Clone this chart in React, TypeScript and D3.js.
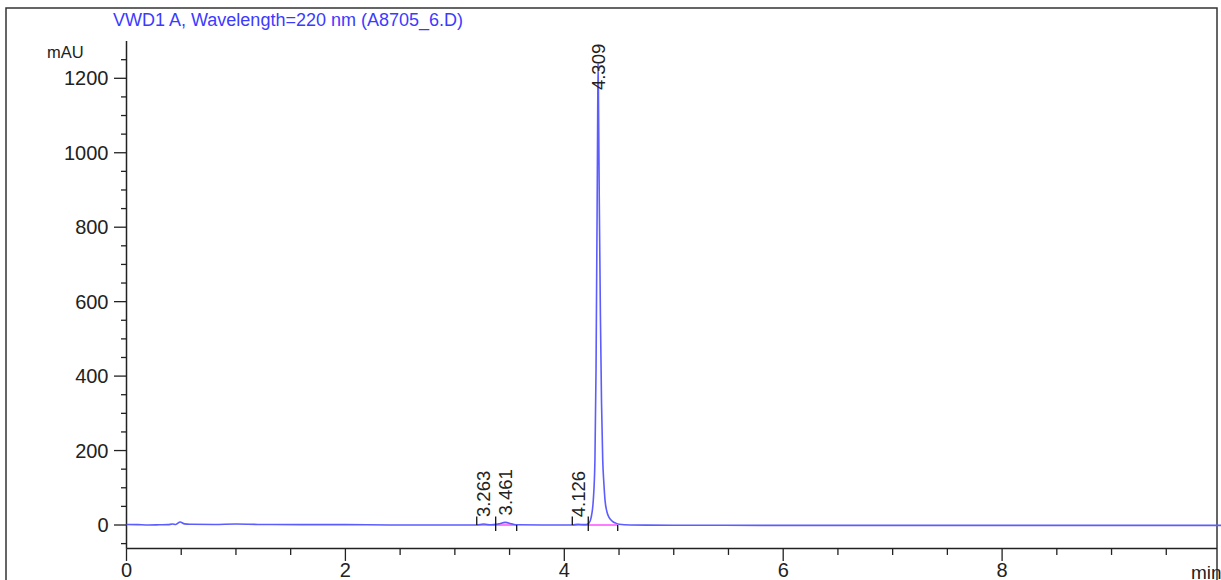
import React from "react";
import * as d3 from "d3";

const title = "VWD1 A, Wavelength=220 nm (A8705_6.D)";
const yUnit = "mAU";
const xUnit = "min";

const xTicks = [0, 2, 4, 6, 8];
const yTicks = [0, 200, 400, 600, 800, 1000, 1200];

// chromatogram trace (time in min, absorbance in mAU)
const traceTime = [
  0.0, 0.1, 0.2, 0.3, 0.38, 0.42, 0.45, 0.49, 0.53, 0.58, 0.8, 1.0, 1.2, 1.6, 2.0, 2.4, 3.0,
  3.2, 3.263, 3.33, 3.4, 3.461, 3.52, 3.57, 3.8, 4.07, 4.126, 4.18, 4.2, 4.225, 4.245, 4.265,
  4.28, 4.29, 4.3, 4.305, 4.309, 4.313, 4.32, 4.33, 4.34, 4.351, 4.362, 4.372, 4.39, 4.41,
  4.44, 4.47, 4.5, 4.6, 5.0, 6.0, 8.0, 9.5, 10.0,
];
const traceValue = [
  1.5, 1.0, 0.0, 0.5, 1.0, 2.5, 1.5, 8, 3, 2, 1.5, 2.5, 1.5, 1, 1, 0, 0,
  0, 2.5, 0.5, 3, 7, 3, 0.5, 0, 0, 2, 1, 1, 5, 20, 67,
  175, 420, 850, 1100, 1240, 1120, 860, 560, 330, 175, 110, 67, 35, 20,
  10, 5, 2, 0, -0.5, -1, -1, -1, -1,
];

// integrated peaks
const peakRT = [3.263, 3.461, 4.126, 4.309];
const peakApex = [2.5, 7, 2, 1240];
const peakStart = [3.2, 3.373, 4.073, 4.219];
const peakEnd = [3.373, 3.565, 4.219, 4.488];
const peakLabel = ["3.263", "3.461", "4.126", "4.309"];

const W = 1221;
const H = 580;
const FONT = "'Liberation Sans', Arial, sans-serif";

export default function App() {
  const x = d3.scaleLinear().domain([0, 10]).range([126.5, 1221]);
  const y = d3.scaleLinear().domain([0, 1200]).range([525, 78.3]);
  const yMinV = -63;
  const yMaxV = 1300;
  const plotTop = y(yMaxV);
  const axisY = y(yMinV);
  const axisX = x(0);

  const pts: [number, number][] = traceTime.map((t, i) => [t, traceValue[i]]);
  const line = d3
    .line<[number, number]>()
    .x((d) => x(d[0]))
    .y((d) => y(d[1]))
    .curve(d3.curveMonotoneX);

  const yMinor = d3.range(-50, 1251, 50).filter((v) => v % 200 !== 0);
  const xMinor = d3.range(0.5, 10, 0.5).filter((v) => v % 2 !== 0);

  const labelLen = 48;

  return (
    <svg
      width={W}
      height={H}
      style={{ position: "fixed", left: 0, top: 0, background: "#fff" }}
      fontFamily={FONT}
    >
      <rect x={6} y={8} width={1211} height={600} fill="none" stroke="#333" strokeWidth={1.5} />
      <text x={113} y={26} fontSize={18} fill="#3b3bff">
        {title}
      </text>
      <text x={47} y={58} fontSize={16.5} fill="#222">
        {yUnit}
      </text>

      {/* y axis */}
      <line x1={axisX} x2={axisX} y1={plotTop} y2={axisY} stroke="#222" strokeWidth={1.5} />
      {yTicks.map((v) => (
        <g key={"yt" + v}>
          <line x1={axisX - 12.5} x2={axisX} y1={y(v)} y2={y(v)} stroke="#222" strokeWidth={1.3} />
          <text x={108.5} y={y(v)} dy="0.35em" fontSize={20} textAnchor="end" fill="#222">
            {v}
          </text>
        </g>
      ))}
      {yMinor.map((v) => (
        <line key={"ym" + v} x1={axisX - 5.5} x2={axisX} y1={y(v)} y2={y(v)} stroke="#222" strokeWidth={1.3} />
      ))}

      {/* x axis */}
      <line x1={axisX} x2={1217} y1={axisY} y2={axisY} stroke="#222" strokeWidth={1.5} />
      {xTicks.map((v) => (
        <g key={"xt" + v}>
          <line x1={x(v)} x2={x(v)} y1={axisY} y2={axisY + 12.5} stroke="#222" strokeWidth={1.3} />
          <text x={x(v)} y={577} fontSize={20} textAnchor="middle" fill="#222">
            {v}
          </text>
        </g>
      ))}
      {xMinor.map((v) => (
        <line key={"xm" + v} x1={x(v)} x2={x(v)} y1={axisY} y2={axisY + 6.5} stroke="#222" strokeWidth={1.3} />
      ))}
      <text x={1191} y={579} fontSize={19} fill="#222">
        {xUnit}
      </text>

      {/* integration baselines */}
      {peakRT.map((rt, i) => (
        <g key={"pk" + i}>
          <line x1={x(peakStart[i])} x2={x(peakEnd[i])} y1={y(0)} y2={y(0)} stroke="#ff33ff" strokeWidth={1.3} />
        </g>
      ))}

      {/* trace */}
      <path d={line(pts) ?? ""} fill="none" stroke="#5c5cff" strokeWidth={1.6} />

      {/* integration ticks */}
      {peakRT.map((rt, i) => (
        <g key={"tk" + i}>
          <line x1={x(peakStart[i])} x2={x(peakStart[i])} y1={y(0) - 8.5} y2={y(0)} stroke="#111" strokeWidth={1.3} />
          <line x1={x(peakEnd[i])} x2={x(peakEnd[i])} y1={y(0)} y2={y(0) + 6} stroke="#111" strokeWidth={1.3} />
        </g>
      ))}

      {/* retention time labels */}
      {peakRT.map((rt, i) => {
        let start = Math.min(y(peakApex[i]), y(0)) - 7;
        if (start - labelLen < plotTop + 1) start = plotTop + 1 + labelLen;
        return (
          <text
            key={"lb" + i}
            transform={`translate(${x(rt) + 6.5},${start}) rotate(-90)`}
            fontSize={18.5}
            fill="#222"
          >
            {peakLabel[i]}
          </text>
        );
      })}
    </svg>
  );
}
